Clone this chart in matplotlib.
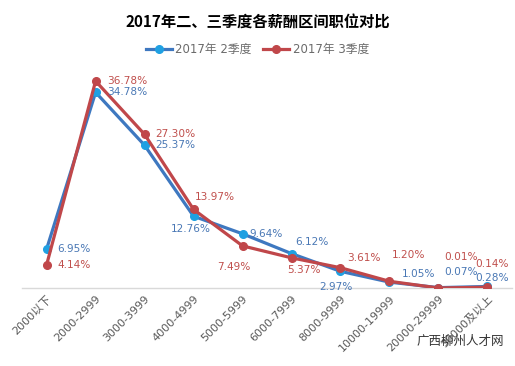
import matplotlib
matplotlib.use("Agg")
import matplotlib.pyplot as plt

plt.rcParams['font.family'] = ['DejaVu Sans', 'Noto Sans CJK SC']

title = "2017年二、三季度各薪酬区间职位对比"
categories = ["2000以下", "2000-2999", "3000-3999", "4000-4999", "5000-5999",
              "6000-7999", "8000-9999", "10000-19999", "20000-29999", "30000及以上"]
series_names = ["2017年 2季度", "2017年 3季度"]
q2 = [6.95, 34.78, 25.37, 12.76, 9.64, 6.12, 2.97, 1.05, 0.07, 0.28]
q3 = [4.14, 36.78, 27.30, 13.97, 7.49, 5.37, 3.61, 1.20, 0.01, 0.14]

# label offsets in points (dx, dy) relative to each point, left-aligned text
q2_off = [(8, 0), (8, 0), (8, 0), (-16, -9), (5, 0), (3, 8), (-15, -11), (9, 6), (4, 11), (-9, 6)]
q3_off = [(8, 0), (8, 0), (8, 0), (1, 9), (-18, -15), (-3, -9), (5, 7), (2, 19), (4, 22), (-9, 17)]

blue_line = "#3E78C0"
blue_mk = "#1FA0E2"
blue_txt = "#4A78B5"
red_line = "#C0474A"
red_txt = "#C0504D"

fig = plt.figure(figsize=(5.15, 3.66), dpi=100)
ax = fig.add_axes([0.043, 0.213, 0.951, 0.615])

x = list(range(len(categories)))
ax.plot(x, q2, color=blue_line, lw=2.3, marker='o', ms=5.5,
        mfc=blue_mk, mec=blue_mk, label=series_names[0], zorder=3)
ax.plot(x, q3, color=red_line, lw=2.3, marker='o', ms=5.5,
        mfc=red_line, mec=red_line, label=series_names[1], zorder=4)

for i, v in enumerate(q2):
    ax.annotate(f"{v:.2f}%", (i, v), xytext=q2_off[i], textcoords='offset points',
                ha='left', va='center', fontsize=7.6, color=blue_txt, zorder=5)
for i, v in enumerate(q3):
    ax.annotate(f"{v:.2f}%", (i, v), xytext=q3_off[i], textcoords='offset points',
                ha='left', va='center', fontsize=7.6, color=red_txt, zorder=5)

ax.set_xlim(-0.5, len(categories) - 0.5)
ax.set_ylim(0, 40)
ax.set_yticks([])
ax.set_xticks(x)
ax.set_xticklabels(categories, rotation=45, ha='right', rotation_mode='anchor',
                   fontsize=8, color="#595959")
ax.tick_params(axis='x', length=0, pad=4)
for s in ['top', 'right', 'left']:
    ax.spines[s].set_visible(False)
ax.spines['bottom'].set_color("#D9D9D9")
ax.spines['bottom'].set_linewidth(1)

fig.text(0.5, 0.938, title, ha='center', va='center', fontsize=11,
         fontweight='bold', color='black', family=['Noto Sans CJK SC'])

leg = fig.legend(loc='center', bbox_to_anchor=(0.5, 0.865), ncol=2, frameon=False,
                 fontsize=8.5, handlelength=2.2, columnspacing=1.0, handletextpad=0.3)
for t in leg.get_texts():
    t.set_color("#6b6b6b")

fig.text(0.808, 0.066, "广西柳州人才网", ha='left', va='center', fontsize=9,
         color="#333333", family=['Noto Sans CJK SC'])

fig.savefig("out.png", dpi=100)
